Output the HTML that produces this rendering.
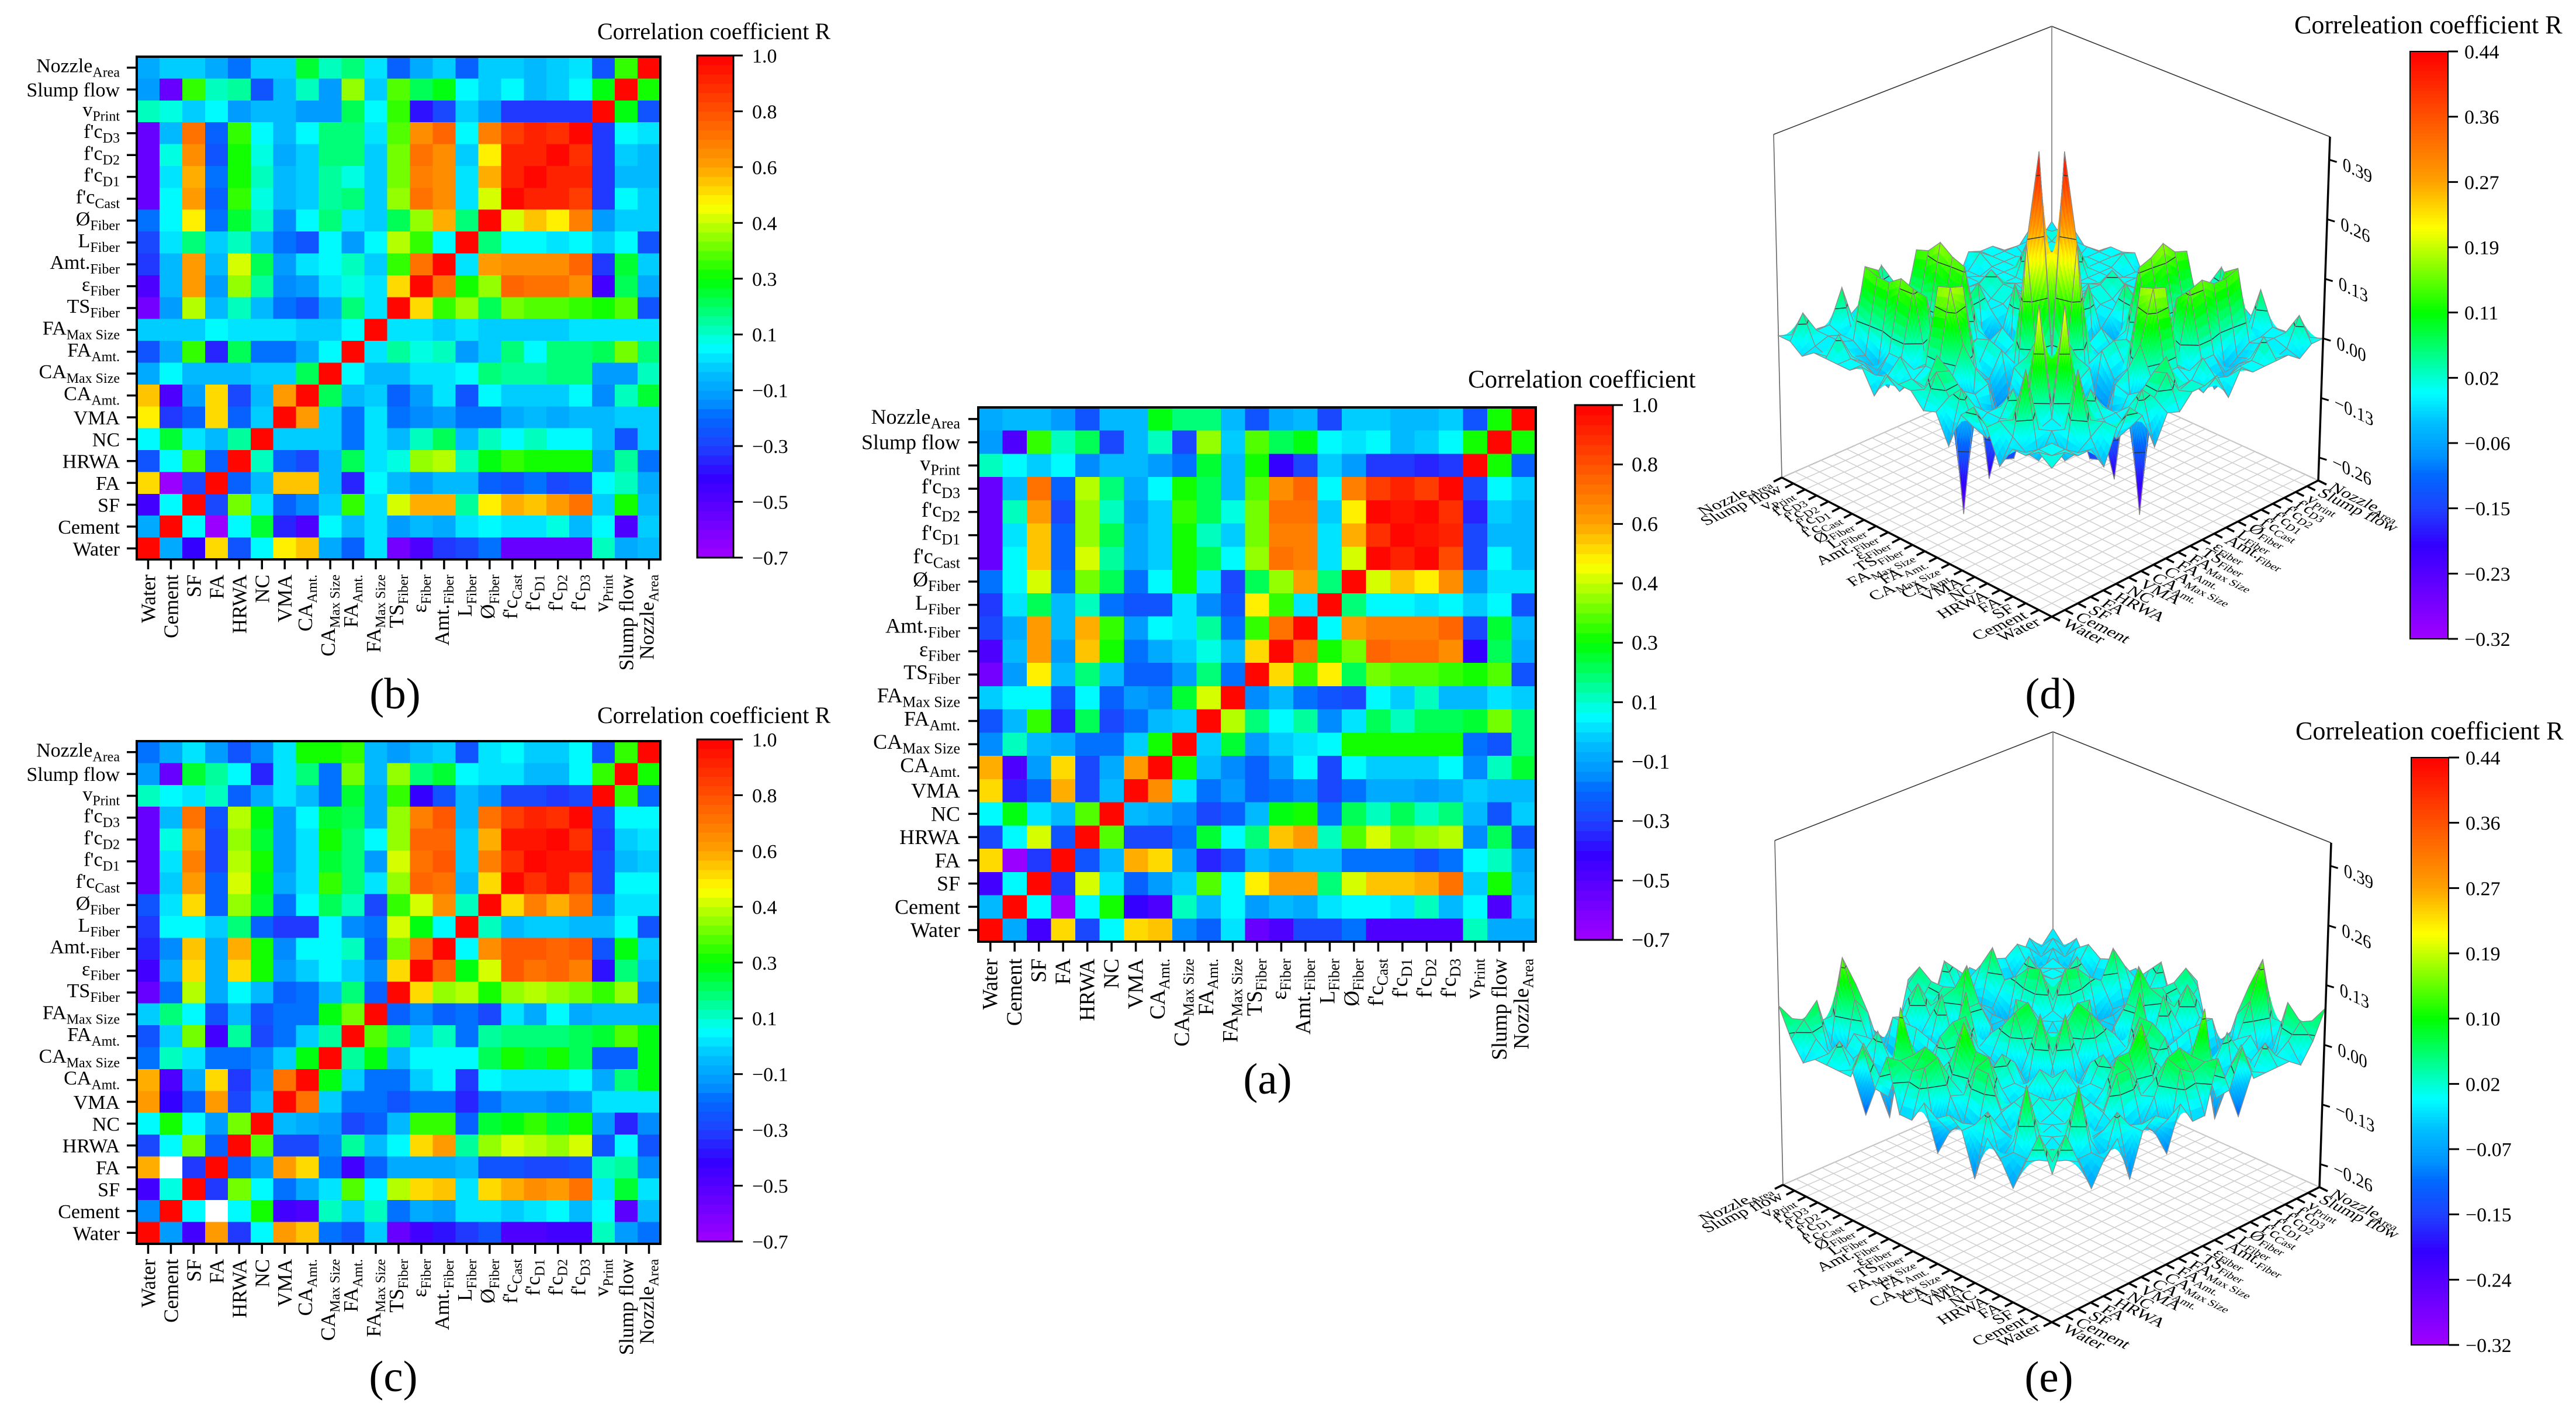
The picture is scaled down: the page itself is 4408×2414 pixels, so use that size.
<!DOCTYPE html>
<html lang="en">
<head>
<meta charset="utf-8">
<title>Correlation coefficient heatmaps and surfaces</title>
<style>
html,body{margin:0;padding:0;background:#fff;}
svg{display:block;}
text{font-family:"Liberation Serif","DejaVu Serif",serif;fill:#000;}
</style>
</head>
<body>
<svg id="figure" xmlns="http://www.w3.org/2000/svg" width="4408" height="2414" viewBox="0 0 4408 2414">
<rect x="0" y="0" width="4408" height="2414" fill="#fff"/>
<g id="panel-a"></g>
<g id="panel-b"></g>
<g id="panel-c"></g>
<g id="panel-d"></g>
<g id="panel-e"></g>
</svg>
<script>
// ---------- categories ----------
const colMain=["Water","Cement","SF","FA","HRWA","NC","VMA","CA","CA","FA","FA","TS","ε","Amt.","L","Ø","f'c","f'c","f'c","f'c","v","Slump flow","Nozzle"];
const colSub=["","","","","","","","Amt.","Max Size","Amt.","Max Size","Fiber","Fiber","Fiber","Fiber","Fiber","Cast","D1","D2","D3","Print","","Area"];

// ---------- colour bar tick labels ----------
const ticksHeat=["1.0","0.8","0.6","0.4","0.3","0.1","−0.1","−0.3","−0.5","−0.7"];
const ticksD=["0.44","0.36","0.27","0.19","0.11","0.02","−0.06","−0.15","−0.23","−0.32"];
const ticksE=["0.44","0.36","0.27","0.19","0.10","0.02","−0.07","−0.15","−0.24","−0.32"];
const zTickValues=[0.39,0.26,0.13,0,-0.13,-0.26];
const zTickLabels=["0.39","0.26","0.13","0.00","−0.13","−0.26"];
const contourLevels=[-0.26,-0.13,0.03,0.13,0.26,0.39];

// ---------- heatmap values: rows top (Nozzle) to bottom (Water), columns Water to Nozzle ----------
const matrixA=[
[-.12,-.08,-.09,-.14,-.27,-.1,-.08,.22,.14,.14,-.08,-.27,-.13,-.08,-.3,-.04,-.07,-.1,-.09,-.05,-.27,.25,1],
[-.14,-.5,.28,.07,.17,-.3,-.08,.06,-.3,.38,-.04,.33,.17,.22,0,-.03,0,-.1,-.06,0,.25,1,.25],
[.06,.02,-.05,0,-.18,-.1,-.09,-.15,-.2,.2,-.08,.27,-.42,-.3,-.07,-.14,-.35,-.35,-.37,-.35,1,.25,-.25],
[-.55,-.1,.72,-.25,.42,.14,-.12,.01,.27,.17,-.08,.32,.68,.76,0,.7,.85,.93,.87,1,-.32,.01,-.05],
[-.55,.07,.64,-.3,.4,.08,-.14,-.05,.28,.17,.05,.36,.74,.72,-.04,.5,1,.95,1,.88,-.37,-.05,-.08],
[-.55,-.02,.58,-.25,.38,.17,-.12,-.05,.27,.08,-.04,.34,.7,.7,-.01,.6,.9,1,.95,.93,-.32,-.1,-.1],
[-.55,.01,.59,-.25,.45,.1,-.12,-.05,.25,.18,.02,.38,.74,.7,-.01,.45,1,.92,1,.83,-.32,.01,-.08],
[-.2,.01,.45,-.2,.34,.18,-.2,.01,.27,-.03,-.32,.15,.38,.63,.14,1,.44,.58,.5,.68,-.14,-.02,-.02],
[-.33,-.03,.15,-.08,.07,-.2,-.28,-.28,-.01,-.17,-.28,.5,.28,-.01,1,.14,0,0,-.02,0,-.05,0,-.27],
[-.3,-.12,.63,-.09,.62,.28,-.15,0,-.02,.1,-.22,.3,.72,1,0,.63,.7,.7,.7,.75,-.3,.2,-.08],
[-.48,-.08,.63,-.14,.58,.27,-.2,-.12,-.04,.03,-.08,.55,1,.72,.27,.37,.75,.72,.74,.67,-.42,.18,-.12],
[-.58,-.15,.5,-.1,.14,-.1,-.25,-.25,-.14,.14,-.2,1,.55,.3,.5,.15,.37,.33,.33,.3,.27,.32,-.27],
[-.05,.02,.01,-.27,0,-.25,-.15,-.18,.2,.44,1,-.18,-.08,-.22,-.28,-.32,.02,-.04,.06,-.08,-.08,-.02,-.07],
[-.27,-.1,.3,-.38,.18,-.32,-.2,-.09,-.04,1,.42,.13,.02,.1,-.18,-.02,.17,.06,.18,.18,.2,.37,.13],
[-.18,.06,-.08,-.13,-.22,-.2,-.05,.27,1,-.05,.2,-.16,-.05,-.03,0,.27,.27,.27,.27,.27,-.22,-.27,.13],
[.6,-.5,-.15,.55,-.32,-.13,.65,1,.25,-.1,-.18,-.25,-.14,0,-.3,.02,-.05,-.05,-.05,0,-.18,.07,.2],
[.55,-.38,-.25,.6,-.3,-.08,1,.66,-.03,-.2,-.15,-.25,-.2,-.17,-.3,-.2,-.13,-.13,-.15,-.13,-.07,-.09,-.09],
[.02,.22,-.02,-.1,.33,1,-.08,-.12,-.18,-.3,-.25,-.1,.22,.26,-.2,.17,.07,.18,.08,.14,-.1,-.27,-.07],
[-.32,0,.46,-.26,1,.32,-.32,-.32,-.22,.2,0,.14,.58,.65,.07,.33,.45,.36,.4,.42,-.18,.16,-.27],
[.55,-.7,-.35,1,-.28,-.1,.62,.55,-.14,-.37,-.27,-.1,-.14,-.1,-.08,-.2,-.22,-.22,-.27,-.22,0,.07,-.13],
[-.45,.02,1,-.35,.46,-.03,-.25,-.15,-.07,.32,.01,.5,.63,.63,.13,.45,.58,.58,.6,.72,-.04,.27,-.08],
[-.1,1,.02,-.68,0,.27,-.42,-.48,.06,-.09,.01,-.14,-.08,-.12,-.03,0,0,-.02,.07,-.08,.01,-.5,-.07],
[1,-.11,-.45,.55,-.32,.01,.55,.58,-.17,-.25,-.03,-.55,-.48,-.32,-.32,-.2,-.48,-.48,-.5,-.5,.07,-.13,-.12]
];
const matrixB=[
[-.12,-.07,-.07,-.12,-.2,-.07,-.07,.2,.08,.13,-.02,-.25,-.12,-.07,-.25,-.05,-.07,-.1,-.07,-.02,-.27,.28,1],
[-.14,-.55,.28,.07,.1,-.27,-.08,.07,-.14,.38,-.04,.33,.17,.22,.01,-.05,0,-.1,-.06,0,.23,1,.27],
[.08,.03,-.05,.01,-.14,-.09,-.08,-.16,-.14,.18,0,.28,-.4,-.3,-.06,-.14,-.35,-.35,-.35,-.35,1,.24,-.27],
[-.55,-.08,.72,-.24,.28,.02,-.1,0,.14,.14,-.03,.32,.68,.76,0,.7,.85,.92,.88,1,-.35,.01,-.02],
[-.55,.03,.66,-.27,.27,.03,-.13,-.05,.14,.14,-.05,.36,.72,.68,-.04,.5,.93,.92,1,.88,-.35,-.05,-.08],
[-.55,-.02,.6,-.2,.25,.06,-.1,-.06,.1,.03,-.05,.36,.7,.68,-.02,.6,.92,1,.93,.93,-.35,-.1,-.1],
[-.55,.01,.63,-.25,.3,.03,-.1,-.05,.1,.14,-.05,.38,.74,.68,-.01,.45,1,.93,.93,.85,-.35,.01,-.07],
[-.22,.02,.5,-.2,.2,.07,-.18,.01,.13,-.02,-.05,.18,.4,.62,.14,1,.46,.58,.5,.7,-.14,-.05,-.04],
[-.3,-.03,.12,-.07,.08,-.08,-.2,-.27,0,-.15,0,.42,.28,0,1,.14,0,0,-.03,0,-.06,.01,-.27],
[-.33,-.1,.64,-.1,.45,.17,-.15,-.02,0,.08,-.05,.3,.72,1,-.01,.65,.68,.68,.68,.75,-.33,.2,-.07],
[-.5,-.1,.64,-.15,.4,.1,-.18,-.15,-.02,.03,-.03,.53,1,.72,.25,.4,.75,.72,.73,.68,-.45,.18,-.12],
[-.6,-.16,.43,-.1,.07,-.08,-.22,-.27,-.12,.12,-.03,1,.54,.3,.38,.18,.35,.32,.32,.3,.27,.33,-.27],
[-.04,-.04,-.04,0,-.03,-.03,-.03,-.05,-.05,0,1,-.03,-.03,-.05,-.01,-.06,-.05,-.05,-.05,-.03,-.01,-.02,-.02],
[-.27,-.12,.28,-.38,.17,-.22,-.22,-.12,0,1,-.01,.1,.03,.07,-.16,-.04,.13,.02,.14,.14,.17,.37,.12],
[-.12,.01,-.08,-.08,-.08,-.05,-.05,.18,1,.01,-.08,-.1,-.03,-.03,0,.13,.09,.09,.13,.13,-.16,-.14,.08],
[.58,-.48,-.15,.55,-.3,-.08,.65,1,.16,-.1,-.06,-.25,-.15,-.02,-.27,.02,-.06,-.06,-.06,0,-.18,.08,.2],
[.5,-.35,-.25,.55,-.25,-.05,1,.63,-.07,-.2,-.03,-.22,-.17,-.14,-.22,-.22,-.12,-.1,-.13,-.1,-.1,-.07,-.07],
[0,.2,-.03,-.09,.1,1,-.05,-.07,-.05,-.2,-.03,-.09,.08,.18,-.1,.07,.02,.06,.02,.02,-.1,-.27,-.07],
[-.27,0,.33,-.25,1,.08,-.25,-.3,-.1,.18,-.03,.05,.38,.42,.06,.24,.3,.26,.27,.27,-.15,.1,-.2],
[.55,-.68,-.3,1,-.24,-.1,.56,.56,-.1,-.38,0,-.09,-.15,-.1,-.08,-.25,-.28,-.22,-.3,-.27,.01,.07,-.12],
[-.45,.02,1,-.3,.35,-.03,-.24,-.17,-.06,.28,-.02,.45,.6,.6,.1,.5,.62,.58,.65,.72,-.04,.27,-.08],
[-.12,1,.02,-.68,0,.2,-.38,-.48,0,-.09,-.02,-.15,-.09,-.11,-.03,.02,-.01,-.02,.03,-.1,.01,-.5,-.07],
[1,-.11,-.42,.54,-.27,.01,.5,.56,-.11,-.25,-.02,-.58,-.5,-.35,-.3,-.22,-.55,-.55,-.55,-.55,.07,-.13,-.1]
];
const matrixC=[
[-.2,-.12,-.03,-.15,-.28,-.17,-.02,.27,.27,.28,-.1,-.15,-.08,-.05,-.27,-.03,0,-.05,-.04,0,-.27,.28,1],
[-.16,-.55,.2,.1,.02,-.38,-.01,.12,-.22,.35,-.1,.38,.12,.2,.01,-.02,-.01,-.1,-.08,0,.28,1,.27],
[.08,0,-.02,.07,-.25,-.13,-.02,-.1,-.22,.2,-.12,.3,-.42,-.26,-.1,-.16,-.3,-.3,-.35,-.3,1,.28,-.25],
[-.55,-.1,.74,-.27,.42,.24,-.14,0,.2,.16,-.12,.38,.7,.8,-.08,.73,.85,.93,.88,1,-.3,.01,.01],
[-.55,.03,.65,-.3,.4,.2,-.16,-.02,.27,.13,0,.4,.75,.75,-.06,.62,.95,.95,1,.9,-.33,-.07,-.02],
[-.55,-.01,.7,-.3,.43,.27,-.14,-.02,.2,.14,-.15,.44,.72,.78,-.05,.7,.88,1,.96,.96,-.3,-.08,-.05],
[-.55,-.05,.63,-.25,.46,.23,-.13,-.02,.28,.14,-.02,.4,.76,.73,-.08,.55,1,.9,.96,.83,-.3,0,.02],
[-.28,-.01,.55,-.24,.4,.2,-.2,0,.17,.08,-.32,.28,.45,.66,.06,1,.55,.7,.62,.73,-.17,-.02,-.02],
[-.33,0,0,-.07,.12,-.25,-.35,-.35,0,-.18,-.2,.44,.24,0,1,.08,-.09,-.05,-.05,-.08,-.1,.01,-.28],
[-.38,-.18,.57,-.12,.62,.27,-.17,.01,0,.06,-.25,.37,.72,1,0,.68,.78,.8,.76,.8,-.27,.22,-.05],
[-.45,-.13,.54,-.12,.54,.27,-.16,-.06,0,-.05,-.17,.55,1,.76,.24,.45,.78,.72,.75,.7,-.4,.13,-.08],
[-.55,-.22,.42,-.12,.01,-.1,-.25,-.2,-.08,.14,-.25,1,.54,.38,.42,.27,.4,.43,.4,.37,.3,.38,-.17],
[-.07,.12,0,-.27,-.08,-.27,-.2,-.2,.24,.34,1,-.24,-.17,-.25,-.2,-.32,-.03,-.12,0,-.12,-.1,-.08,-.08],
[-.27,-.06,.34,-.45,.1,-.32,-.2,-.06,.1,1,.33,.12,-.05,.07,-.2,.1,.13,.14,.14,.17,.2,.32,.23],
[-.2,.07,-.02,-.2,-.2,-.17,-.05,.24,1,.1,.24,-.1,0,0,0,.17,.25,.2,.25,.17,-.24,-.24,.23],
[.6,-.5,-.13,.55,-.33,-.15,.72,1,.23,-.06,-.2,-.2,-.05,0,-.35,.01,-.02,-.02,-.02,0,-.12,.12,.24],
[.64,-.42,-.24,.64,-.3,-.1,1,.74,-.05,-.2,-.2,-.27,-.2,-.2,-.37,-.2,-.14,-.14,-.17,-.14,-.02,-.02,-.02],
[.01,.27,0,-.14,.34,1,-.1,-.12,-.16,-.32,-.25,-.1,.28,.28,-.25,.2,.24,.28,.2,.25,-.14,-.38,-.17],
[-.3,.02,.35,-.25,1,.33,-.3,-.32,-.17,.1,-.08,0,.54,.65,.1,.4,.46,.43,.4,.44,-.27,.02,-.27],
[.62,null,-.33,1,-.23,-.14,.64,.55,-.2,-.45,-.25,-.12,-.12,-.12,-.08,-.27,-.27,-.3,-.3,-.27,.08,.1,-.17],
[-.45,.03,1,-.33,.35,0,-.22,-.12,-.03,.33,.01,.42,.54,.56,-.03,.55,.62,.68,.64,.74,-.03,.2,-.01],
[-.17,1,.02,null,.01,.27,-.45,-.5,.07,-.05,.08,-.22,-.13,-.15,-.02,-.02,-.05,-.02,.02,-.1,0,-.52,-.1],
[1,-.15,-.45,.63,-.35,.01,.65,.56,-.2,-.27,-.07,-.55,-.47,-.4,-.35,-.27,-.5,-.5,-.45,-.45,.07,-.16,-.2]
];

// ---------- surface heights: lower triangle, row i = column i from Water to Nozzle ----------
const surfaceD=[
[0],
[.02,0],
[0,0,0],
[0,-.02,-.05,0],
[-.05,0,.13,-.01,0],
[.02,.02,.01,-.01,.23,0],
[.05,-.03,0,.05,-.05,-.03,0],
[.02,-.02,0,0,-.02,-.05,0,0],
[-.06,.05,0,-.05,-.14,-.15,0,.09,0],
[0,.02,.02,0,.01,-.1,.02,.03,-.04,0],
[-.01,.06,.05,-.27,.03,-.22,-.12,-.13,.25,.44,0],
[.02,.01,.07,0,.07,-.02,-.03,.02,-.02,.02,-.17,0],
[.02,.02,-.01,.01,.18,.17,-.02,.03,-.02,0,-.05,.01,0],
[.03,-.02,-.01,.01,.17,.11,0,.02,-.02,.02,-.17,0,0,0],
[-.03,0,.03,-.01,-.01,-.12,-.08,-.01,-.01,-.02,-.28,.08,0,-.01,0],
[.02,-.01,-.05,0,.14,.11,-.02,0,.14,-.01,-.27,-.03,-.02,.01,0,0],
[0,0,-.04,0,.15,.07,-.02,0,.15,.04,.07,0,0,.02,0,0,0],
[0,0,-.02,-.05,.13,.11,-.02,.01,.17,.05,.01,-.02,0,.02,.01,0,-.03,0],
[0,.04,-.02,-.03,.13,.05,-.01,0,.14,.03,.1,0,.02,.04,0,0,.07,.03,0],
[0,-.02,0,-.01,.14,.12,-.02,.01,.13,.03,-.05,0,0,0,0,0,0,.01,-.01,0],
[-.02,-.01,0,-.01,-.04,-.01,-.01,.01,-.06,.02,-.08,-.01,-.02,0,-.01,0,0,0,-.02,0,0],
[0,.05,0,0,.07,-.03,0,-.01,-.16,0,0,0,0,0,-.01,.02,0,0,0,0,.02,0],
[0,-.01,-.02,-.02,-.07,-.03,-.01,.02,.06,.01,-.06,-.02,-.01,-.01,-.05,.01,0,0,-.02,-.03,0,-.03,0]
];
const surfaceE=[
[0],
[.07,0],
[0,-.01,0],
[-.07,-.02,-.02,0],
[-.02,-.02,.11,-.01,0],
[.01,-.05,-.02,.04,-.01,0],
[-.09,.04,-.01,-.04,0,.02,0],
[0,0,-.02,0,.01,.02,-.07,0],
[.02,-.01,-.06,.07,-.02,-.03,0,.03,0],
[0,-.04,-.04,.07,.08,0,0,-.03,-.14,0],
[.02,-.1,.01,0,.08,.02,.05,.02,-.04,.1,0],
[-.03,.07,.08,.02,.13,0,0,-.05,-.06,0,.05,0],
[-.03,.05,.09,-.02,.04,0,-.04,-.06,-.04,.08,.09,.01,0],
[.08,.06,.06,.03,0,.01,.02,-.01,-.02,.04,.03,-.07,-.04,0],
[0,-.03,.15,-.01,-.05,.05,.07,.07,-.01,.01,-.08,.06,.04,-.01,0],
[.08,.02,-.1,.04,-.06,-.02,0,.01,.1,-.11,0,-.13,-.07,-.03,.08,0],
[0,.06,-.04,0,-.01,-.13,.01,-.03,-.03,.04,.04,-.02,-.02,-.03,.07,-.1,0],
[0,-.01,-.12,.05,-.05,-.1,.02,-.03,.07,-.06,.11,-.1,-.02,-.08,.04,-.1,.02,0],
[0,.04,-.01,0,0,-.12,.02,-.03,.01,.04,.05,-.04,-.01,-.03,.02,-.12,.05,0,0],
[0,0,-.02,.02,0,-.1,.02,.01,.07,.01,.04,-.06,-.02,-.04,.08,-.03,0,0,-.01,0],
[-.02,.02,-.03,-.07,.07,.03,-.07,-.05,.02,0,.04,-.03,0,-.04,.03,.02,-.05,-.05,-.02,-.05,0],
[.02,.05,.08,-.03,.15,.08,-.07,-.06,-.08,.03,.06,-.05,.05,.02,-.01,-.01,.01,0,.02,0,-.03,0],
[.08,.04,-.06,.01,.01,.07,-.06,-.05,-.13,-.14,.02,-.12,-.05,-.03,-.03,-.01,-.07,-.05,-.05,-.05,0,-.03,0]
];

// ---------- helpers ----------
const NS="http://www.w3.org/2000/svg";
function mk(parent,tag,attrs){
  const el=document.createElementNS(NS,tag);
  for(const k in attrs){el.setAttribute(k,attrs[k]);}
  parent.appendChild(el);
  return el;
}
const cmap=[[0,[160,0,255]],[.111,[85,0,255]],[.16,[50,0,255]],[.222,[30,65,255]],[.28,[0,105,255]],[.31,[0,145,255]],[.367,[0,190,255]],[.42,[0,255,255]],[.555,[0,255,0]],[.70,[255,255,0]],[.78,[255,160,0]],[1,[255,0,0]]];
function colorAt(f){
  f=Math.max(0,Math.min(1,f));
  for(let k=1;k<cmap.length;k++){
    if(f<=cmap[k][0]){
      const a=cmap[k-1],b=cmap[k],t=(f-a[0])/(b[0]-a[0]);
      return "rgb("+Math.round(a[1][0]+(b[1][0]-a[1][0])*t)+","+Math.round(a[1][1]+(b[1][1]-a[1][1])*t)+","+Math.round(a[1][2]+(b[1][2]-a[1][2])*t)+")";
    }
  }
  return "rgb(255,0,0)";
}
function bandColor(f,bands){
  const b=Math.min(bands-1,Math.max(0,Math.floor(f*bands)));
  return colorAt((b+.5)/bands);
}
function labelText(parent,main,sub,x,y,size,subSize,subDy,anchor,transform){
  const t=mk(parent,"text",{x:x,y:y,"font-size":size,"text-anchor":anchor});
  if(transform){t.setAttribute("transform",transform);}
  const m=mk(t,"tspan",{});
  m.textContent=main;
  if(sub){
    const s=mk(t,"tspan",{"font-size":subSize,dy:subDy});
    s.textContent=sub;
  }
  return t;
}
function colorbar(g,cfg,labels){
  const h=cfg.bottom-cfg.top;
  for(let k=0;k<cfg.bands;k++){
    const r=mk(g,"rect",{x:cfg.x0,y:cfg.bottom-(k+1)*h/cfg.bands,width:cfg.x1-cfg.x0,height:h/cfg.bands+.6,fill:colorAt((k+.5)/cfg.bands),"shape-rendering":"crispEdges"});
    
    
  }
  const box=mk(g,"rect",{x:cfg.x0,y:cfg.top,width:cfg.x1-cfg.x0,height:h,fill:"none",stroke:"#000","stroke-width":cfg.box});
  
  
  labels.forEach(function(lab,k){
    const y=cfg.top+k*h/(labels.length-1);
    const tk=mk(g,"line",{x1:cfg.x1,y1:y,x2:cfg.tickEnd,y2:y,stroke:"#000","stroke-width":3});
    
    
    const t=mk(g,"text",{x:cfg.labelX,y:y+12,"font-size":cfg.size});
    t.textContent=lab;
    
    
  });
}
function titleAndPanel(g,title,tx,ty,tsize,panel,px,py){
  const t=mk(g,"text",{x:tx,y:ty,"font-size":tsize});
  t.textContent=title;
  
  
  const p=mk(g,"text",{x:px,y:py,"font-size":75,"text-anchor":"middle"});
  p.textContent=panel;
  
  
}

// ---------- heatmap ----------
function heatmap(id,matrix,c){
  const g=document.getElementById(id);
  const n=colMain.length;
  const xScale=function(j){return c.left+j*(c.right-c.left)/n;};
  const yScale=function(i){return c.top+i*(c.bottom-c.top)/n;};
  matrix.forEach(function(row,i){
    row.forEach(function(v,j){
      const fill=(v===null||v===undefined)?"#fff":bandColor((v-(-0.7))/1.7,54);
      const r=mk(g,"rect",{x:xScale(j),y:yScale(i),width:xScale(j+1)-xScale(j)+.5,height:yScale(i+1)-yScale(i)+.5,fill:fill,"shape-rendering":"crispEdges"});
      
      
    });
  });
  const frame=mk(g,"rect",{x:c.left,y:c.top,width:c.right-c.left,height:c.bottom-c.top,fill:"none",stroke:"#000","stroke-width":4});
  
  
  for(let j=0;j<n;j++){
    const cx=xScale(j+.5);
    const tx=mk(g,"line",{x1:cx,y1:c.bottom,x2:cx,y2:c.bottom+17,stroke:"#000","stroke-width":3.5});
    
    
    const bx=cx+(colSub[j]?8:12);
    const ly=c.bottom+c.labelGap;
    const lx=labelText(g,colMain[j],colSub[j],bx,ly,c.size,c.sub,8,"end","rotate(-90 "+bx+" "+ly+")");
    
    
    const row=n-1-j;
    const cy=yScale(row+.5);
    const ty=mk(g,"line",{x1:c.left-17,y1:cy,x2:c.left,y2:cy,stroke:"#000","stroke-width":3.5});
    
    
    const ly2=labelText(g,colMain[j],colSub[j],c.left-c.ylabGap,cy+(colSub[j]?8:12),c.ysize,c.sub,8,"end");
    
    
  }
}

// ---------- surface ----------
function squareToQuad(p0,p1,p2,p3){
  const dx1=p1[0]-p2[0],dx2=p3[0]-p2[0],sx=p0[0]-p1[0]+p2[0]-p3[0];
  const dy1=p1[1]-p2[1],dy2=p3[1]-p2[1],sy=p0[1]-p1[1]+p2[1]-p3[1];
  const den=dx1*dy2-dx2*dy1;
  const gg=(sx*dy2-dx2*sy)/den,hh=(dx1*sy-sx*dy1)/den;
  const a=p1[0]-p0[0]+gg*p1[0],b=p3[0]-p0[0]+hh*p3[0];
  const d=p1[1]-p0[1]+gg*p1[1],e=p3[1]-p0[1]+hh*p3[1];
  return function(u,v){
    const w=gg*u+hh*v+1;
    return [(a*u+b*v+p0[0])/w,(d*u+e*v+p0[1])/w];
  };
}
function surface(id,rows,c){
  const g=document.getElementById(id);
  const n=colMain.length,zMin=-0.31,zMax=0.44;
  const floorAt=squareToQuad(c.F,c.L,c.B,c.R);
  const topAt=squareToQuad(c.TF,c.TL,c.TB,c.TR);
  const project=function(u,v,z){
    const p=floorAt(u,v),q=topAt(u,v),t=(z-zMin)/(zMax-zMin);
    return [p[0]+(q[0]-p[0])*t,p[1]+(q[1]-p[1])*t];
  };
  const zAt=function(i,j){return i>=j?rows[i][j]:rows[j][i];};
  const colorZ=function(z){return colorAt((z+0.32)/0.76);};
  const pts=function(list){return list.map(function(p){return p[0].toFixed(1)+","+p[1].toFixed(1);}).join(" ");};
  // frame
  const frameLines=[[c.L,c.B,"#222",1.6],[c.R,c.B,"#222",1.6],[c.L,c.TL,"#666",1.6],[c.TL,c.TB,"#333",1.6],[c.TB,c.TR,"#333",1.6],[c.TB,c.B,"#777",1.6]];
  const frameGroup=mk(g,"g",{});
  
  
  // floor grid
  const grid=mk(g,"g",{stroke:"#cfcfcf","stroke-width":1.5});
  
  
  for(let k=0;k<n;k++){
    const t=k/(n-1);
    const a=floorAt(t,0),b=floorAt(t,1),d=floorAt(0,t),e=floorAt(1,t);
    const l1=mk(grid,"line",{x1:a[0],y1:a[1],x2:b[0],y2:b[1]});
    
    
    const l2=mk(grid,"line",{x1:d[0],y1:d[1],x2:e[0],y2:e[1]});
    
    
  }
  frameLines.forEach(function(f){
    const l=mk(frameGroup,"line",{x1:f[0][0],y1:f[0][1],x2:f[1][0],y2:f[1][1],stroke:f[2],"stroke-width":f[3]});
    
    
  });
  // surface quads, painted back to front
  const quads=[];
  for(let i=0;i<n-1;i++){for(let j=0;j<n-1;j++){quads.push([i,j]);}}
  quads.sort(function(a,b){return (b[0]+b[1])-(a[0]+a[1]);});
  const surf=mk(g,"g",{});
  
  
  const d=n-1;
  quads.forEach(function(q){
    const i=q[0],j=q[1];
    const z00=zAt(i,j),z10=zAt(i+1,j),z11=zAt(i+1,j+1),z01=zAt(i,j+1);
    const cell=mk(surf,"g",{});
    
    
    const range=Math.max(z00,z10,z11,z01)-Math.min(z00,z10,z11,z01);
    const sub=Math.max(1,Math.min(12,Math.ceil(range/0.022)));
    const bil=function(s,t){return z00*(1-s)*(1-t)+z10*s*(1-t)+z11*s*t+z01*(1-s)*t;};
    for(let a=sub-1;a>=0;a--){
      for(let b=sub-1;b>=0;b--){
        const s0=a/sub,s1=(a+1)/sub,t0=b/sub,t1=(b+1)/sub;
        const corner=function(s,t){return project((i+s)/d,(j+t)/d,bil(s,t));};
        const col=colorZ(bil((s0+s1)/2,(t0+t1)/2));
        const poly=mk(cell,"polygon",{points:pts([corner(s0,t0),corner(s1,t0),corner(s1,t1),corner(s0,t1)]),fill:col,stroke:col,"stroke-width":.7});
        
        
      }
    }
    // contours
    contourLevels.forEach(function(L){
      const cross=[];
      const edge=function(za,zb,f){
        if((za-L)*(zb-L)<0){
          const t=(L-za)/(zb-za);
          const uv=f(t);
          cross.push(project((i+uv[0])/d,(j+uv[1])/d,L));
        }
      };
      edge(z00,z10,function(t){return [t,0];});
      edge(z10,z11,function(t){return [1,t];});
      edge(z11,z01,function(t){return [1-t,1];});
      edge(z01,z00,function(t){return [0,1-t];});
      for(let k=0;k+1<cross.length;k+=2){
        const ln=mk(cell,"line",{x1:cross[k][0],y1:cross[k][1],x2:cross[k+1][0],y2:cross[k+1][1],stroke:"#2a3a3a","stroke-width":1.5});
        
        
      }
    });
    const mesh=mk(cell,"polygon",{points:pts([project(i/d,j/d,z00),project((i+1)/d,j/d,z10),project((i+1)/d,(j+1)/d,z11),project(i/d,(j+1)/d,z01)]),fill:"none",stroke:"#8a8a8a","stroke-width":1.3});
    
    
  });
  // floor axes
  const axes=[[c.F,c.L],[c.F,c.R],[c.R,c.TR]];
  axes.forEach(function(a){
    const l=mk(g,"line",{x1:a[0][0],y1:a[0][1],x2:a[1][0],y2:a[1][1],stroke:"#000","stroke-width":3.5});
    
    
  });
  for(let k=0;k<n;k++){
    const t=k/(n-1);
    const pl=floorAt(t,0);
    const tl=mk(g,"line",{x1:pl[0],y1:pl[1],x2:pl[0]-14,y2:pl[1]+7,stroke:"#000","stroke-width":3.5});
    
    
    const ltx=pl[0]-14-3,lty=pl[1]+7+6;
    const lab=labelText(g,colMain[k],colSub[k],0,0,31,21,6,"end","matrix(.91,-.41,.62,.6,"+ltx.toFixed(1)+","+lty.toFixed(1)+")");
    
    
    const pr=floorAt(0,t);
    const tr=mk(g,"line",{x1:pr[0],y1:pr[1],x2:pr[0]+14,y2:pr[1]+7,stroke:"#000","stroke-width":3.5});
    
    
    const rtx=pr[0]+14+2,rty=pr[1]+7+8;
    const rab=labelText(g,colMain[k],colSub[k],0,0,31,21,6,"start","matrix(.9,.44,-.62,.6,"+rtx.toFixed(1)+","+rty.toFixed(1)+")");
    
    
  }
  zTickValues.forEach(function(v,k){
    const p=project(0,1,v);
    const tk=mk(g,"line",{x1:p[0],y1:p[1],x2:p[0]+13,y2:p[1]+4,stroke:"#000","stroke-width":3});
    
    
    const t=mk(g,"text",{"font-size":32,transform:"matrix(.9,.43,0,1,"+(p[0]+23).toFixed(1)+","+(p[1]+17).toFixed(1)+")"});
    t.textContent=zTickLabels[k];
    
    
  });
}

// ---------- draw panels ----------
heatmap("panel-a",matrixA,{left:1674,right:2628,top:697,bottom:1611,size:37,ysize:36,sub:26,labelGap:29,ylabGap:31});
colorbar(document.getElementById("panel-a"),{x0:2695,x1:2760,top:693,bottom:1608,bands:54,box:3,tickEnd:2777,labelX:2792,size:36},ticksHeat);
titleAndPanel(document.getElementById("panel-a"),"Correlation coefficient",2512,663,43,"(a)",2169,1871);

heatmap("panel-b",matrixB,{left:234,right:1130,top:97,bottom:957,size:35,ysize:34,sub:24,labelGap:26,ylabGap:29});
colorbar(document.getElementById("panel-b"),{x0:1193,x1:1255,top:95,bottom:954,bands:54,box:3,tickEnd:1271,labelX:1287,size:34},ticksHeat);
titleAndPanel(document.getElementById("panel-b"),"Correlation coefficient R",1022,67,40,"(b)",676,1212);

heatmap("panel-c",matrixC,{left:234,right:1130,top:1268,bottom:2128,size:35,ysize:34,sub:24,labelGap:26,ylabGap:29});
colorbar(document.getElementById("panel-c"),{x0:1193,x1:1255,top:1265,bottom:2124,bands:54,box:3,tickEnd:1271,labelX:1287,size:34},ticksHeat);
titleAndPanel(document.getElementById("panel-c"),"Correlation coefficient R",1022,1237,40,"(c)",673,2380);

surface("panel-d",surfaceD,{F:[3511,1055],L:[3049,817],R:[3967,822],B:[3511,614],TF:[3511,441],TL:[3035,230],TR:[3987,234],TB:[3511,45]});
colorbar(document.getElementById("panel-d"),{x0:4124,x1:4189,top:88,bottom:1093,bands:180,box:2,tickEnd:4206,labelX:4217,size:34},ticksD);
titleAndPanel(document.getElementById("panel-d"),"Correleation coefficient R",3926,57,44,"(d)",3509,1212);

surface("panel-e",surfaceE,{F:[3511,2262],L:[3051,2027],R:[3969,2031],B:[3513,1825],TF:[3513,1650],TL:[3037,1438],TR:[3989,1442],TB:[3513,1252]});
colorbar(document.getElementById("panel-e"),{x0:4126,x1:4190,top:1296,bottom:2301,bands:180,box:2,tickEnd:4208,labelX:4219,size:34},ticksE);
titleAndPanel(document.getElementById("panel-e"),"Correleation coefficient R",3928,1265,44,"(e)",3506,2381);
</script>
</body>
</html>
